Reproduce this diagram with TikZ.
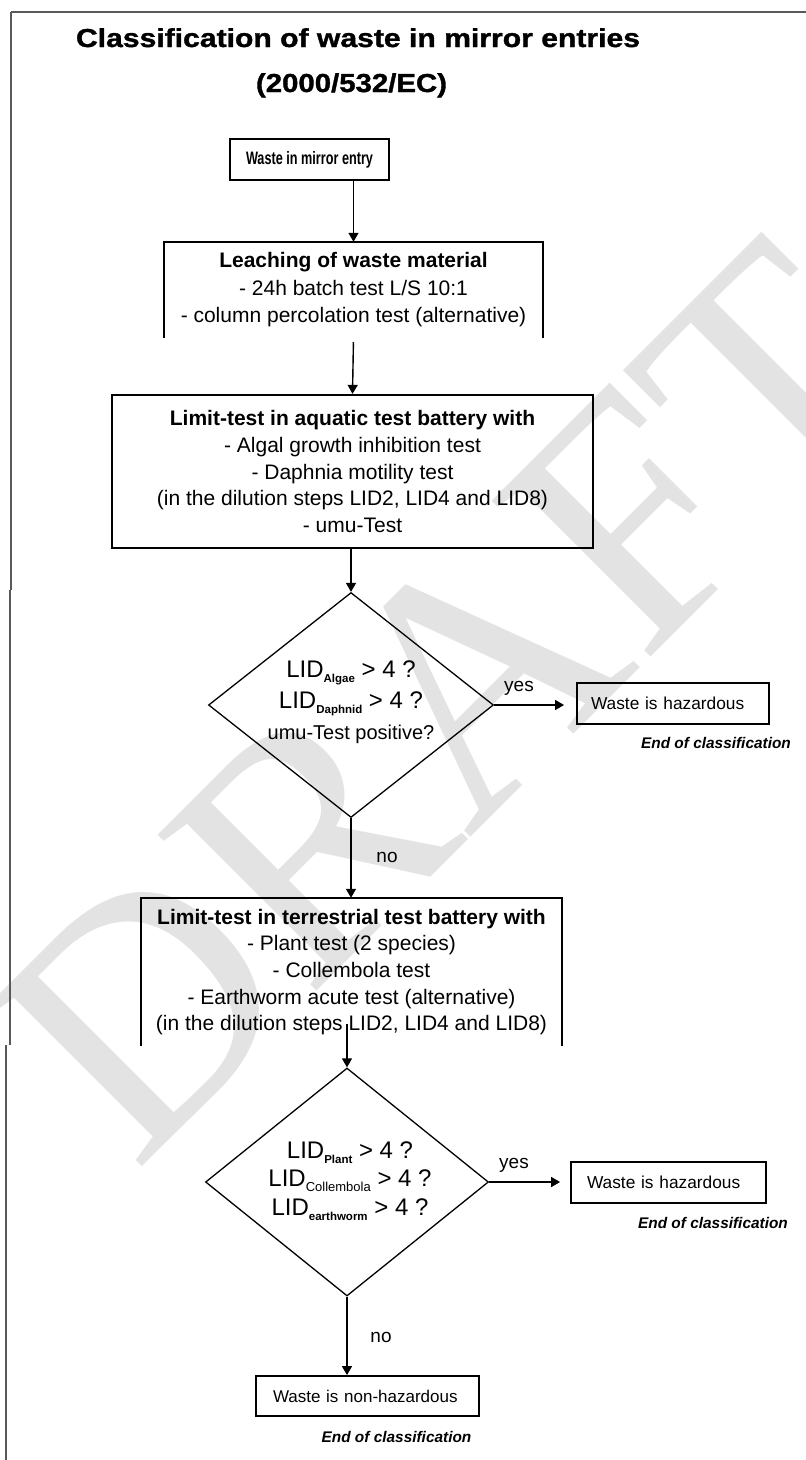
\documentclass[tikz,border=0pt]{standalone}
\usepackage{fontspec}
\setmainfont{Liberation Sans}
\newfontfamily\wmfont{Liberation Serif}
\newfontfamily\heavyfont{Liberation Sans}[UprightFont={* Bold},FakeBold=1.2]
\usepackage{graphicx}
\usetikzlibrary{arrows.meta,shapes.geometric,calc}
\newcommand\lidsub[1]{\raisebox{-5pt}{\fontsize{11.5}{12}\selectfont\bfseries #1}}
\newcommand\lidsubb[1]{\raisebox{-5pt}{\fontsize{13}{14}\selectfont #1}}
\tikzset{
  framel/.style={draw=black!65,line width=1.5pt},
  boxl/.style={line width=2.2pt},
  arr/.style={line width=1.4pt,-{Triangle[width=10pt,length=9pt]}},
  flowtxt/.style={inner sep=0pt,align=center,font=\fontsize{21}{26.7}\selectfont},
  dia/.style={diamond,draw,line width=1.3pt,inner sep=0pt,minimum width=#1},
  hbox/.style={draw,line width=1.8pt,align=left,inner ysep=0pt,font=\fontsize{17.3}{20}\selectfont},
  endtxt/.style={inner sep=0pt,font=\fontsize{15.4}{18}\selectfont\bfseries\itshape},
  lbl/.style={inner sep=0pt,font=\fontsize{19}{22}\selectfont},
}
\begin{document}
\begin{tikzpicture}[x=1pt,y=-1pt]
\fill[white] (0,0) rectangle (806,1460);
\useasboundingbox (0,0) rectangle (806,1460);
% watermark
\node[rotate=45,text=black!11,inner sep=0pt,font=\wmfont\fontsize{340}{340}\selectfont] (wm) at (450,700) {DRAFT};
% frame
\draw[framel] (11,12) -- (806,12);
\draw[framel] (11,12) -- (11,590);
\draw[framel] (10,590) -- (10,1045);
\draw[framel] (6,1045) -- (6,1460);
% title
\node[anchor=base,inner sep=0pt] (t1) at (358,47) {\resizebox{564pt}{\height}{\fontsize{26}{30}\selectfont\heavyfont Classification of waste in mirror entries}};
\node[anchor=base,inner sep=0pt] (t2) at (351.5,92) {\resizebox{191pt}{\height}{\fontsize{26}{30}\selectfont\heavyfont (2000/532/EC)}};
% box 1
\node[draw,boxl,minimum width=159pt,minimum height=41pt,inner sep=0pt] (b1) at (309.5,159.5) {\resizebox{127pt}{\height}{\fontsize{18}{20}\selectfont\bfseries Waste in mirror entry}};
% box 2 (open at bottom)
\node[flowtxt,font=\fontsize{21}{27.5}\selectfont,minimum width=379pt,minimum height=96pt] (b2) at (353.5,290) {\textbf{Leaching of waste material}\\- 24h batch test L/S 10:1\\- column percolation test (alternative)};
\draw[boxl] (b2.south west) -- (b2.north west) -- (b2.north east) -- (b2.south east);
% box 3
\node[flowtxt,draw,boxl,minimum width=481pt,minimum height=153pt] (b3) at (352.5,471.5) {\textbf{Limit-test in aquatic test battery with}\\- Algal growth inhibition test\\- Daphnia motility test\\(in the dilution steps LID2, LID4 and LID8)\\- umu-Test};
% diamond 1
\node[dia=285pt,minimum height=225pt] (d1) at (351,705) {};
\node[inner sep=0pt,align=center,font=\fontsize{24}{31}\selectfont] (d1t) at (351,702) {LID\lidsub{Algae} > 4 ?\\LID\lidsub{Daphnid} > 4 ?\\{\fontsize{20}{31}\selectfont umu-Test positive?}};
% hazardous 1
\node[hbox,text width=164pt,inner xsep=14pt,minimum height=41pt] (h1) at (673,703.5) {Waste is hazardous};
\node[endtxt] (e1) at (716,743) {End of classification};
\node[lbl] (y1) at (519,688) {yes};
% box 4 (open at bottom)
\node[flowtxt,minimum width=421pt,minimum height=148pt] (b4) at (351.5,972) {\textbf{Limit-test in terrestrial test battery with}\\- Plant test (2 species)\\- Collembola test\\- Earthworm acute test (alternative)\\(in the dilution steps LID2, LID4 and LID8)};
\draw[boxl] (b4.south west) -- (b4.north west) -- (b4.north east) -- (b4.south east);
\node[lbl] (n1) at (387,857) {no};
% diamond 2
\node[dia=283pt,minimum height=228pt] (d2) at (347,1182) {};
\node[inner sep=0pt,align=center,font=\fontsize{24}{28.5}\selectfont] (d2t) at (350,1181) {LID\lidsub{Plant} > 4 ?\\LID\lidsubb{Collembola} > 4 ?\\LID\lidsub{earthworm} > 4 ?};
% hazardous 2
\node[hbox,text width=163pt,inner xsep=16pt,minimum height=41pt] (h2) at (668.5,1182.5) {Waste is hazardous};
\node[endtxt] (e2) at (713,1223) {End of classification};
\node[lbl] (y2) at (514,1165) {yes};
% non-hazardous
\node[hbox,font=\fontsize{17}{20}\selectfont,text width=189pt,inner xsep=17pt,minimum height=40pt] (nh) at (367.5,1396) {Waste is non-hazardous};
\node[endtxt] (e3) at (396.5,1437) {End of classification};
\node[lbl] (n2) at (381,1337) {no};
% connectors
\draw[arr] (b1.south -| b2.north) -- (b2.north);
\draw[arr,shorten <=4pt] (b2.south) -- (b3.north);
\draw[arr] (d1.north |- b3.south) -- (d1.north);
\draw[arr,shorten >=12pt] (d1.east) -- (d1.east -| h1.west);
\draw[arr] (d1.south) -- (d1.south |- b4.north);
\draw[arr] ($(d2.north |- b4.south)+(0,-22)$) -- (d2.north);
\draw[arr,shorten >=10pt] (d2.east) -- (d2.east -| h2.west);
\draw[arr] (d2.south) -- (d2.south |- nh.north);
\end{tikzpicture}
\end{document}
